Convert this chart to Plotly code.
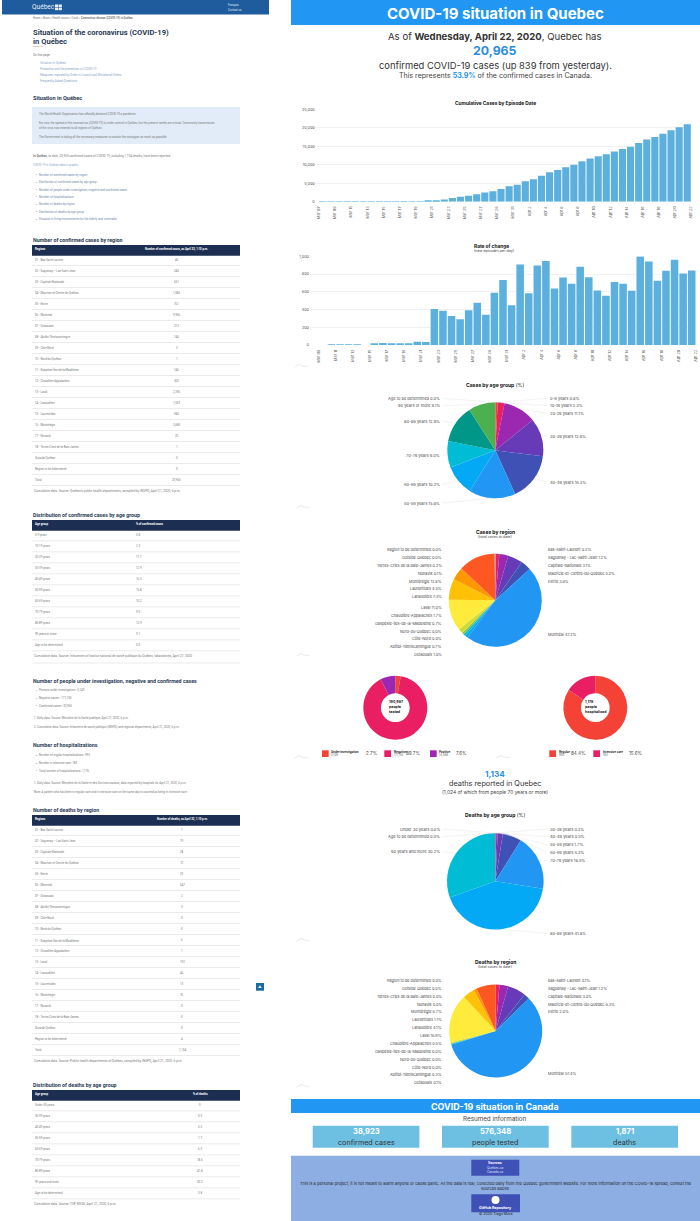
import math
import plotly.graph_objects as go

W = 700
H = 1221

# Bar chart data
DAYS = ['Mar 07', 'Mar 08', 'Mar 09', 'Mar 10', 'Mar 11', 'Mar 12', 'Mar 13', 'Mar 14', 'Mar 15', 'Mar 16',
        'Mar 17', 'Mar 18', 'Mar 19', 'Mar 20', 'Mar 21', 'Mar 22', 'Mar 23', 'Mar 24', 'Mar 25', 'Mar 26',
        'Mar 27', 'Mar 28', 'Mar 29', 'Mar 30', 'Mar 31', 'Apr 1', 'Apr 2', 'Apr 3', 'Apr 4', 'Apr 5',
        'Apr 6', 'Apr 7', 'Apr 8', 'Apr 9', 'Apr 10', 'Apr 11', 'Apr 12', 'Apr 13', 'Apr 14', 'Apr 15',
        'Apr 16', 'Apr 17', 'Apr 18', 'Apr 19', 'Apr 20', 'Apr 21', 'Apr 22']
CUMULATIVE = [1, 2, 3, 3, 4, 4, 9, 13, 17, 24, 39, 50, 74, 94, 141, 221, 628, 1013, 1339, 1629,
              2021, 2498, 2840, 3430, 4162, 4611, 5518, 6101, 6997, 7944, 8580, 9340, 10031, 10912, 11677,
              12292, 12846, 13557, 14248, 14860, 15857, 16798, 17521, 18357, 19319, 20126, 20965]
RATE_DAYS = DAYS[2:]
RATE = [0, 0, 4, 2, 7, 3, 0, 15, 22, 17, 20, 11, 36, 33, 407, 385, 326, 290, 392, 477,
        342, 590, 732, 449, 907, 583, 896, 947, 636, 760, 691, 881, 765, 615, 554, 711,
        691, 612, 997, 941, 723, 836, 962, 807, 839]
Y_TICKS_CUMULATIVE = [0, 5000, 10000, 15000, 20000, 25000]
Y_TICKS_RATE = [0, 200, 400, 600, 800, 1000]

# Pie data, clockwise from 12 o'clock
AGE_LABELS = ['0-9 years', '10-19 years', '20-29 years', '30-39 years', '40-49 years', '50-59 years',
              '60-69 years', '70-79 years', '80-89 years', '90 years or more', 'Age to be determined']
AGE_VALUES = [0.8, 2.3, 11.1, 12.9, 16.3, 15.8, 10.2, 9.0, 12.9, 9.1, 0.0]

REGION_LABELS = ['Bas-Saint-Laurent', 'Saguenay - Lac-Saint-Jean', 'Capitale-Nationale',
                 'Mauricie-et-Centre-du-Québec', 'Estrie', 'Montréal', 'Outaouais', 'Abitibi-Témiscamingue',
                 'Côte-Nord', 'Nord-du-Québec', 'Gaspésie-Îles-de-la-Madeleine', 'Chaudière-Appalaches',
                 'Laval', 'Lanaudière', 'Laurentides', 'Montérégie', 'Nunavik', 'Terres-Cries de la Baie-James',
                 'Outside Québec', 'Region to be determined']
REGION_VALUES = [0.2, 1.2, 3.1, 5.2, 3.6, 47.2, 1.0, 0.7, 0.0, 0.0, 0.7, 1.7, 11.0, 7.3, 4.5, 12.8,
                 0.1, 0.2, 0.0, 0.0]

DEATH_AGE_LABELS = ['Under 30 years', '30-39 years', '40-49 years', '50-59 years', '60-69 years',
                    '70-79 years', '80-89 years', '90 years and more', 'Age to be determined']
DEATH_AGE_VALUES = [0.0, 0.3, 0.5, 1.7, 6.3, 18.5, 41.8, 30.2, 0.0]

DEATH_REGION_VALUES = [0.1, 1.2, 3.0, 6.3, 2.0, 57.4, 0.1, 0.3, 0.0, 0.0, 0.0, 0.5, 16.9, 4.1, 1.1, 6.7,
                       0.0, 0.0, 0.0, 0.0]

TESTED_LABELS = ['Under investigation', 'Negative', 'Positive']
TESTED_COUNTS = ['5,149', '171,150', '14,568']
TESTED_VALUES = [2.7, 89.7, 7.6]
HOSP_LABELS = ['Regular', 'Intensive care']
HOSP_COUNTS = ['993', '183']
HOSP_VALUES = [84.4, 15.6]

# Page tables on the left
CASE_REGIONS = ['01 - Bas-Saint-Laurent', '02 - Saguenay – Lac-Saint-Jean', '03 - Capitale-Nationale',
                '04 - Mauricie-et-Centre-du-Québec', '05 - Estrie', '06 - Montréal', '07 - Outaouais',
                '08 - Abitibi-Témiscamingue', '09 - Côte-Nord', '10 - Nord-du-Québec',
                '11 - Gaspésie-Îles-de-la-Madeleine', '12 - Chaudière-Appalaches', '13 - Laval', '14 - Lanaudière',
                '15 - Laurentides', '16 - Montérégie', '17 - Nunavik', '18 - Terres-Cries-de-la-Baie-James',
                'Outside Québec', 'Region to be determined', 'Total']
CASE_COUNTS = ['46', '245', '651', '1,086', '761', '9,906', '213', '146', '3', '1', '146', '360', '2,296',
               '1,533', '945', '2,680', '20', '1', '0', '0', '20,965']
DEATH_COUNTS = ['1', '19', '28', '72', '23', '647', '2', '3', '0', '0', '6', '1', '192', '46', '13', '76',
                '0', '0', '0', '4', '1,134']
AGE_TABLE_LABELS = ['0-9 years', '10-19 years', '20-29 years', '30-39 years', '40-49 years', '50-59 years',
                    '60-69 years', '70-79 years', '80-89 years', '90 years or more', 'Age to be determined']
AGE_TABLE_VALUES = ['0.8', '2.3', '11.1', '12.9', '16.3', '15.8', '10.2', '9.0', '12.9', '9.1', '0.0']
DEATH_AGE_TABLE_VALUES = ['0', '0.3', '0.5', '1.7', '6.3', '18.5', '41.8', '30.2', '0.8']

# Canada summary
CANADA_VALUES = ['38,923', '576,348', '1,871']
CANADA_LABELS = ['confirmed cases', 'people tested', 'deaths']

MATERIAL = ['#f44336', '#e91e63', '#9c27b0', '#673ab7', '#3f51b5', '#2196f3', '#03a9f4', '#00bcd4',
            '#009688', '#4caf50', '#8bc34a', '#cddc39', '#ffeb3b', '#ffc107', '#ff9800', '#ff5722',
            '#795548', '#9e9e9e', '#607d8b', '#000000']
BLUE = '#2196f3'
BAR_COLOR = '#5bb0de'
DARK_NAVY = '#1c2f52'
RIGHT_FONT = 'Inter'
LEFT_FONT = 'Roboto'
LEFT_GREY = '#777777'
HEAD_GREY = '#2a3a55'

fig = go.Figure()
annotations = []
shapes = []


def text(x, y, s, size, color='#333333', anchor='center', family=RIGHT_FONT):
    annotations.append(dict(xref='paper', yref='paper', x=x / W, y=1 - y / H, text=s, showarrow=False,
                            xanchor=anchor, yanchor='middle', borderpad=0,
                            font=dict(family=family, size=size, color=color)))


def rect(x0, y0, x1, y1, fill):
    shapes.append(dict(type='rect', xref='paper', yref='paper', x0=x0 / W, x1=x1 / W,
                       y0=1 - y1 / H, y1=1 - y0 / H, fillcolor=fill, line=dict(width=0), layer='below'))


def hline(x0, x1, y, color='#dddddd', width=0.6):
    shapes.append(dict(type='line', xref='paper', yref='paper', x0=x0 / W, x1=x1 / W,
                       y0=1 - y / H, y1=1 - y / H, line=dict(color=color, width=width)))


def seg(x0, y0, x1, y1, color='#e6e6e6', width=0.5):
    shapes.append(dict(type='line', xref='paper', yref='paper', x0=x0 / W, x1=x1 / W,
                       y0=1 - y0 / H, y1=1 - y1 / H, line=dict(color=color, width=width)))


def hill(x, y):
    # the little grey mark left under every chart
    seg(x - 6.5, y + 1, x - 2, y - 1.5, '#d5d5d5')
    seg(x - 2, y - 1.5, x + 1, y, '#d5d5d5')
    seg(x + 1, y, x + 6.5, y + 0.5, '#d5d5d5')


def add_pie(values, cx, cy, r, colors, hole=0):
    fig.add_trace(go.Pie(values=values, sort=False, direction='clockwise', rotation=0, hole=hole,
                         marker=dict(colors=colors, line=dict(width=0)), textinfo='none', showlegend=False,
                         domain=dict(x=[(cx - r) / W, (cx + r) / W], y=[1 - (cy + r) / H, 1 - (cy - r) / H])))


def pie_labels(labels, values, ys, xs, cx, cy, r, leaders=False, size=3.9):
    # xs holds (right column x, left column x), a label goes on the side of its slice
    total = sum(values)
    run = 0
    for lab, val, y in zip(labels, values, ys):
        mid = (run + val / 2) / total * 2 * math.pi
        run += val
        right = y[0] == 'r'
        lx = xs[0] if right else xs[1]
        text(lx, y[1], f'{lab} {val:.1f}%', size, '#4a4a4a', 'left' if right else 'right')
        if leaders:
            seg(lx + (-2 if right else 2), y[1], cx + r * math.sin(mid), cy - r * math.cos(mid))


# ---------------- right page ----------------
rect(291, 0, 700, 25, BLUE)
text(495, 13, '<b>COVID-19 situation in Quebec</b>', 15, 'white')
text(495, 36.7, 'As of <b>Wednesday, April 22, 2020</b>, Quebec has', 9.6, '#333333')
text(495, 50.7, '<b>20,965</b>', 12.3, '#2c8fd9')
text(495, 65, 'confirmed COVID-19 cases (up 839 from yesterday).', 9.4, '#333333')
text(495, 75, f'This represents <b><span style="color:{BLUE}">53.9%</span></b> of the confirmed cases in Canada.',
     7.05, '#444444')

fig.add_trace(go.Bar(x=DAYS, y=CUMULATIVE, marker_color=BAR_COLOR, marker_line_width=0,
                     xaxis='x', yaxis='y', showlegend=False))
fig.add_trace(go.Bar(x=RATE_DAYS, y=RATE, marker_color=BAR_COLOR, marker_line_width=0,
                     xaxis='x2', yaxis='y2', showlegend=False))
text(495, 103.5, '<b>Cumulative Cases by Episode Date</b>', 4.8, '#111111')
text(473.5, 246, '<b>Rate of change</b>', 4.8, '#111111', 'left')
text(473.5, 251.5, '(new episodes per day)', 3.6, '#444444', 'left')
hill(301, 366)

# cases by age
CX, CY, R = 495.3, 450.3, 48
add_pie(AGE_VALUES, CX, CY, R, MATERIAL)
text(495, 384.7, '<b>Cases by age group</b> (%)', 5, '#111111')
pie_labels(AGE_LABELS, AGE_VALUES,
           [('r', 398.3), ('r', 405.7), ('r', 413.3), ('r', 436.3), ('r', 482), ('l', 503), ('l', 484.3),
            ('l', 455.7), ('l', 421), ('l', 405.7), ('l', 398.3)],
           (549.3, 440.7), CX, CY, R, leaders=True, size=4)
hill(303, 507)

# cases by region
CX, CY, R = 495.3, 600.3, 46.5
add_pie(REGION_VALUES, CX, CY, R, MATERIAL)
text(495, 531.7, '<b>Cases by region</b>', 5, '#111111')
text(495, 536.8, '(total cases to date)', 3.6, '#444444')
REGION_YS = [('r', 549.7), ('r', 557.3), ('r', 565.3), ('r', 573), ('r', 581), ('r', 634),
             ('l', 654.3), ('l', 646.7), ('l', 638.7), ('l', 631), ('l', 623.3), ('l', 615.3),
             ('l', 607.7), ('l', 596.7), ('l', 588.7), ('l', 581), ('l', 573), ('l', 565.3), ('l', 557.3), ('l', 549.7)]
pie_labels(REGION_LABELS, REGION_VALUES, REGION_YS, (547, 443), CX, CY, R, size=3.8)
hill(303, 655)

# donuts
DONUT_Y = 707.7
add_pie(TESTED_VALUES, 395.3, DONUT_Y, 32, MATERIAL[:3], hole=0.45)
add_pie(HOSP_VALUES, 595.3, DONUT_Y, 32, MATERIAL[:2], hole=0.45)
for i, line in enumerate(['190,867', 'people', 'tested']):
    text(387.7, 702.3 + i * 4.9, f'<b>{line}</b>', 3.6, '#222222', 'left')
for i, line in enumerate(['1,176', 'people', 'hospitalized']):
    text(583.5, 702.3 + i * 4.9, f'<b>{line}</b>', 3.6, '#222222', 'left')

legend_rows = [(TESTED_LABELS, TESTED_COUNTS, TESTED_VALUES, [322, 384.3, 430], [371.7, 413.3, 461.7]),
               (HOSP_LABELS, HOSP_COUNTS, HOSP_VALUES, [549.3, 593.3], [578.3, 635])]
for labs, cnts, vals, xs, pct_xs in legend_rows:
    for i, (lab, cnt, val) in enumerate(zip(labs, cnts, vals)):
        rect(xs[i], 750.3, xs[i] + 6.7, 757, MATERIAL[i])
        text(xs[i] + 8.3, 751.7, f'<b>{lab}</b>', 2.9, '#222222', 'left')
        text(xs[i] + 8.3, 755.3, cnt, 2.9, '#666666', 'left')
        text(pct_xs[i], 753.7, f'{val:.1f}%', 4.6, '#444444')
hill(301, 757)
hill(503, 757)

text(495, 774, '<b>1,134</b>', 8.2, '#2c8fd9')
text(495, 783.5, 'deaths reported in Quebec', 7.3, '#333333')
text(495, 791.7, '(1,024 of which from people 70 years or more)', 4.85, '#444444')

# deaths by age
CX, CY, R = 495.3, 881.3, 48.3
add_pie(DEATH_AGE_VALUES, CX, CY, R, MATERIAL)
text(495, 815.3, '<b>Deaths by age group</b> (%)', 5, '#111111')
pie_labels(DEATH_AGE_LABELS, DEATH_AGE_VALUES,
           [('l', 829), ('r', 829), ('r', 836.7), ('r', 844.7), ('r', 852.3), ('r', 860.3), ('r', 933.3),
            ('l', 851.7), ('l', 836.7)],
           (549.3, 440.7), CX, CY, R, leaders=True, size=4)
hill(303, 940)

# deaths by region
CX, CY, R = 495.7, 1031, 46.5
add_pie(DEATH_REGION_VALUES, CX, CY, R, MATERIAL)
text(495, 962.3, '<b>Deaths by region</b>', 5, '#111111')
text(495, 967.4, '(total cases to date)', 3.6, '#444444')
DEATH_REGION_YS = [('r', 980.3), ('r', 988.3), ('r', 996), ('r', 1004), ('r', 1011.7), ('r', 1073.7),
                   ('l', 1082.7), ('l', 1074.7), ('l', 1067), ('l', 1059.3), ('l', 1051.3), ('l', 1043.3),
                   ('l', 1035.3), ('l', 1027.3), ('l', 1019.7), ('l', 1011.7), ('l', 1004), ('l', 996),
                   ('l', 988.3), ('l', 980.3)]
pie_labels(REGION_LABELS, DEATH_REGION_VALUES, DEATH_REGION_YS, (547, 443), CX, CY, R, size=3.8)
hill(303, 1086)

# Canada block and footer
rect(291, 1099, 700, 1113, BLUE)
text(495, 1106, '<b>COVID-19 situation in Canada</b>', 8.9, 'white')
text(495, 1119.3, 'Resumed information', 6.3, '#444444')
for i, x0 in enumerate([312.7, 442, 571.3]):
    rect(x0, 1125.7, x0 + 106.7, 1147.7, '#6ec0e3')
    text(x0 + 53.3, 1131.7, f'<b>{CANADA_VALUES[i]}</b>', 7.6, 'white')
    text(x0 + 53.3, 1142, CANADA_LABELS[i], 7.2, '#333333')
rect(291, 1155.7, 700, 1221, '#8daee2')
rect(471.3, 1159.7, 519.3, 1175.7, '#3f51b5')
text(495.3, 1163, '<b>Sources</b>', 3.4, 'white')
text(495.3, 1167.6, 'Québec.ca', 3.2, '#dfe4ff')
text(495.3, 1172, 'Canada.ca', 3.2, '#dfe4ff')
text(495.5, 1183, 'This is a personal project, it is not meant to alarm anyone or cause panic. All the data is real, '
                  'collected daily from the Quebec government website. For more information on the COVID-19 spread, '
                  'consult the', 4.05, '#222222')
text(495.5, 1188, 'sources above', 4.05, '#222222')
rect(471.3, 1194.3, 520, 1212.3, '#3f51b5')
shapes.append(dict(type='circle', xref='paper', yref='paper', x0=491.5 / W, x1=499.5 / W,
                   y0=1 - 1204 / H, y1=1 - 1196 / H, fillcolor='white', line=dict(width=0)))
text(495.5, 1208.2, '<b>GitHub Repository</b>', 3.6, 'white')
text(495.5, 1214.3, '© 2020 Tiago Mota', 3.6, '#222222')

# ---------------- left page ----------------
rect(2, 0, 269, 14.5, '#1f5c9e')
text(31, 7, 'Québec', 6.6, '#e8eef6', 'left', LEFT_FONT)
for sx, sy in [(55, 4.5), (58.7, 4.5), (55, 7.6), (58.7, 7.6)]:
    rect(sx, sy, sx + 3.2, sy + 2.6, '#e8eef6')
text(227, 5, 'Français', 2.8, '#dfe8f2', 'left', LEFT_FONT)
text(227, 9.7, 'Contact us', 2.8, '#dfe8f2', 'left', LEFT_FONT)
text(32, 18.3, 'Home &gt; News &gt; Health issues &gt; Covid &gt; <b>Coronavirus disease (COVID-19) in Québec</b>', 2.7,
     LEFT_GREY, 'left', LEFT_FONT)
text(32, 32.3, '<b>Situation of the coronavirus (COVID-19)</b>', 7.6, HEAD_GREY, 'left', LEFT_FONT)
text(32, 41, '<b>in Québec</b>', 7.6, HEAD_GREY, 'left', LEFT_FONT)
text(32, 46.5, 'COVID-19', 2.2, '#d9534f', 'left', LEFT_FONT)
text(32, 55, 'On this page:', 3, LEFT_GREY, 'left', LEFT_FONT)
for y, s in zip([63.3, 69.3, 75.3, 81.3],
                ['Situation in Québec', 'Protection and the prevention of COVID-19',
                 'Measures imposed by Order in Council and Ministerial Orders', 'Frequently Asked Questions']):
    text(39, y, s, 3, '#8aa4c4', 'left', LEFT_FONT)
text(32, 98.3, '<b>Situation in Québec</b>', 5.6, HEAD_GREY, 'left', LEFT_FONT)
rect(32, 107, 240, 144, '#e1ecf8')
for y, s in zip([114, 123.3, 128, 137.3],
                ['The World Health Organization has officially declared COVID-19 a pandemic.',
                 'For now, the spread of the coronavirus (COVID-19) is under control in Québec, but the present weeks '
                 'are critical. Community transmission',
                 'of the virus now extends to all regions of Québec.',
                 'The Government is taking all the necessary measures to contain the contagion as much as possible.']):
    text(37.5, y, s, 2.9, LEFT_GREY, 'left', LEFT_FONT)
text(32, 155.7, '<b>In Québec</b>, to date, 20,965 confirmed cases of COVID-19, including 1,134 deaths, have been reported.',
     3.1, LEFT_GREY, 'left', LEFT_FONT)
text(32, 165, 'COVID-19 in Québec data in graphs', 2.9, '#8aa4c4', 'left', LEFT_FONT)
for y, s in zip([174.7, 182, 189.7, 197, 204.3, 211.7, 219.3],
                ['Number of confirmed cases by region', 'Distribution of confirmed cases by age group',
                 'Number of people under investigation, negative and confirmed cases', 'Number of hospitalizations',
                 'Number of deaths by region', 'Distribution of deaths by age group',
                 'Situation in living environments for the elderly and vulnerable']):
    text(35, y, '<b>▪</b>', 2.6, '#3f5f8a', 'left', LEFT_FONT)
    text(37.7, y, s, 2.9, '#6d86a8', 'left', LEFT_FONT)


def table(title, title_y, head_y, head_left, head_right, head_x, labels, values, first_y, val_x, val_anchor, note, note_y):
    text(32, title_y, f'<b>{title}</b>', 5.3, HEAD_GREY, 'left', LEFT_FONT)
    rect(32, head_y, 240, head_y + 10.7, DARK_NAVY)
    text(33.5, head_y + 4.3, f'<b>{head_left}</b>', 2.8, 'white', 'left', LEFT_FONT)
    text(head_x, head_y + 4.3, f'<b>{head_right}</b>', 2.8, 'white', val_anchor, LEFT_FONT)
    for i, (lab, val) in enumerate(zip(labels, values)):
        y = first_y + i * 11
        text(33.5, y, lab, 2.9, LEFT_GREY, 'left', LEFT_FONT)
        text(val_x, y, val, 2.9, LEFT_GREY, val_anchor, LEFT_FONT)
        hline(32, 240, y + 5.5)
    text(33, note_y, note, 3.2, LEFT_GREY, 'left', LEFT_FONT)


table('Number of confirmed cases by region', 240, 245, 'Regions', 'Number of confirmed cases, as April 22, 1:10 p.m.', 177,
      CASE_REGIONS, CASE_COUNTS, 260, 177, 'center',
      "Cumulative data. Source: Québec's public health departments, compiled by INSPQ, April 21, 2020, 6 p.m.", 491)
table('Distribution of confirmed cases by age group', 515.3, 520, 'Age group', '% of confirmed cases', 135,
      AGE_TABLE_LABELS, AGE_TABLE_VALUES, 535.3, 135, 'left',
      'Cumulative data. Source: Infocentre of Institut national de santé publique du Québec, laboratories, April 21, 2020',
      656.3)
hline(32, 240, 663)

text(32, 680.7, '<b>Number of people under investigation, negative and confirmed cases</b>', 5.3, HEAD_GREY, 'left', LEFT_FONT)
for y, s in zip([690.3, 698, 705.7],
                ['Persons under investigation¹: 5,149', 'Negative cases¹: 171,150', 'Confirmed cases²: 20,965']):
    text(35, y, '<b>▪</b>', 2.6, '#3f5f8a', 'left', LEFT_FONT)
    text(37.5, y, s, 2.9, LEFT_GREY, 'left', LEFT_FONT)
text(32.5, 718, '1. Daily data. Source: Ministère de la Santé publique, April 21, 2020, 6 p.m.', 2.9, LEFT_GREY, 'left', LEFT_FONT)
text(32.5, 727, '2. Cumulative data. Source: Infocentre de santé publique (INSPQ) and regional departments, April 21, 2020, 6 p.m.',
     2.9, LEFT_GREY, 'left', LEFT_FONT)
text(32, 745.3, '<b>Number of hospitalizations</b>', 5.3, HEAD_GREY, 'left', LEFT_FONT)
for y, s in zip([755.3, 763, 770.7],
                ['Number of regular hospitalizations: 993', 'Number in intensive care: 183',
                 'Total number of hospitalizations: 1,176']):
    text(35, y, '<b>▪</b>', 2.6, '#3f5f8a', 'left', LEFT_FONT)
    text(37.5, y, s, 2.9, LEFT_GREY, 'left', LEFT_FONT)
text(32.5, 782.7, '1. Daily data. Source: Ministère de la Santé et des Services sociaux, data reported by hospitals for April 21, 2020, 6 p.m.',
     2.9, LEFT_GREY, 'left', LEFT_FONT)
text(32.5, 791.7, 'Note: A patient who has been in regular care and in intensive care on the same day is counted as being in intensive care.',
     2.9, LEFT_GREY, 'left', LEFT_FONT)

table('Number of deaths by region', 810.3, 815, 'Regions', 'Number of deaths, as April 22, 1:10 p.m.', 182,
      CASE_REGIONS, DEATH_COUNTS, 830, 182, 'center',
      'Cumulative data. Source: Public health departments of Québec, compiled by INSPQ, April 21, 2020, 6 p.m.', 1061)
table('Distribution of deaths by age group', 1085, 1090, 'Age group', '% of deaths', 200,
      DEATH_AGE_LABELS, DEATH_AGE_TABLE_VALUES, 1105.3, 200, 'center',
      'Cumulative data. Source: TSP, MSSS, April 21, 2020, 6 p.m.', 1204)

# back-to-top button
rect(256, 983, 264, 990.7, '#1a6aa8')
text(260, 986.8, '▲', 3.5, 'white')

AXIS_TEXT = dict(family=RIGHT_FONT, size=3.8, color='#555555')
fig.update_layout(
    width=W, height=H, autosize=False, margin=dict(l=0, r=0, t=0, b=0),
    paper_bgcolor='white', plot_bgcolor='white', bargap=0.12, hovermode=False,
    annotations=annotations, shapes=shapes,
    xaxis=dict(domain=[310.7 / W, 691.3 / W], anchor='y', type='category', categoryorder='array', categoryarray=DAYS,
               range=[-0.5, len(DAYS) - 0.5], tickmode='array', tickvals=DAYS[::2], tickangle=-90, showgrid=False,
               ticks='', showline=False, tickfont=AXIS_TEXT, ticklabelshift=4, ticklabelstandoff=3, automargin=False),
    yaxis=dict(domain=[1 - 201.7 / H, 1 - 109.3 / H], anchor='x', range=[0, 25000], tickmode='array',
               tickvals=Y_TICKS_CUMULATIVE, tickformat=',d', gridcolor='#f2f2f2', gridwidth=0.5, zeroline=False,
               tickfont=AXIS_TEXT, ticklabelstandoff=-5, automargin=False),
    xaxis2=dict(domain=[310 / W, 696 / W], anchor='y2', type='category', categoryorder='array', categoryarray=RATE_DAYS,
                range=[-0.5, len(RATE_DAYS) - 0.5], tickmode='array', tickvals=RATE_DAYS[::2], tickangle=-90,
                showgrid=False, ticks='', showline=False, tickfont=AXIS_TEXT, ticklabelshift=4, ticklabelstandoff=3,
                automargin=False),
    yaxis2=dict(domain=[1 - 345 / H, 1 - 256.3 / H], anchor='x2', range=[0, 1000], tickmode='array',
                tickvals=Y_TICKS_RATE, tickformat=',d', gridcolor='#f2f2f2', gridwidth=0.5, zeroline=False,
                tickfont=AXIS_TEXT, automargin=False),
)

fig.write_html('out.html', config=dict(displayModeBar=False),
               post_script="document.body.style.margin='0';document.body.style.overflow='hidden';")
